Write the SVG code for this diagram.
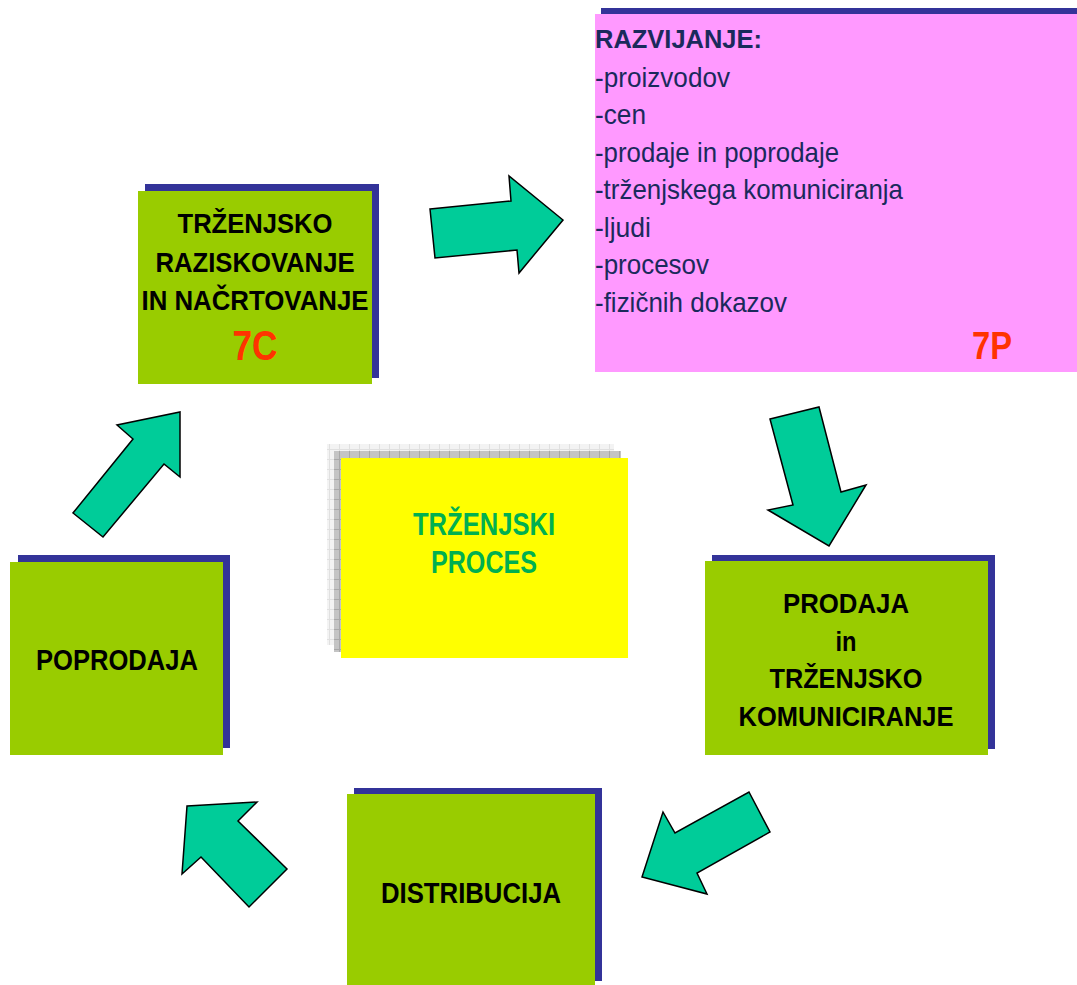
<svg xmlns="http://www.w3.org/2000/svg" width="1077" height="985" viewBox="0 0 1077 985">
<style>
.box{fill:#99CC00}
.sh{fill:#333399}
.bt{font-family:"Liberation Sans",Arial,sans-serif;font-weight:bold;fill:#000;text-anchor:middle}
.arrow{fill:#00CC99;stroke:#000;stroke-width:1.5;stroke-linejoin:miter}
.lst{font-family:"Liberation Sans",Arial,sans-serif;fill:#1a2a5c;font-size:28px}
.red{font-family:"Liberation Sans",Arial,sans-serif;font-weight:bold;fill:#FF3300}
</style>
<defs>
<pattern id="gl" width="10" height="10" patternUnits="userSpaceOnUse">
<rect width="10" height="10" fill="#f3f3f3"/>
<path d="M0 9.5H10M9.5 0V10" stroke="#e0e0e0" stroke-width="1"/>
</pattern>
<pattern id="gd" width="10" height="10" patternUnits="userSpaceOnUse">
<rect width="10" height="10" fill="#c4c4c4"/>
<path d="M0 9.5H10M9.5 0V10" stroke="#a8a8a8" stroke-width="1"/>
</pattern>
</defs>
<rect width="1077" height="985" fill="#fff"/>

<g id="connectors">
<polygon class="arrow" points="430,209 511,201 509,176 563,220 519,273 517,250 435,258"/>
<polygon class="arrow" points="770,419 819,407 841,492 866,485 829,546 768,510 793,505"/>
<polygon class="arrow" points="749,792 770,832 697,873 707,894 642,877 663,812 675,833"/>
<polygon class="arrow" points="187,806 257,802 238,821 287,869 249,907 201,857 182,874"/>
<polygon class="arrow" points="180,412 180,477 164,464 103,537 73,513 133,439 117,425"/>
</g>

<g id="node-raziskovanje">
<rect class="sh" x="145" y="184" width="234" height="194"/>
<rect class="box" x="138" y="191" width="234" height="193"/>
<text class="bt" x="255" y="233" font-size="28" textLength="155" lengthAdjust="spacingAndGlyphs">TRŽENJSKO</text>
<text class="bt" x="255" y="272" font-size="28" textLength="199" lengthAdjust="spacingAndGlyphs">RAZISKOVANJE</text>
<text class="bt" x="255" y="310" font-size="28" textLength="227" lengthAdjust="spacingAndGlyphs">IN NAČRTOVANJE</text>
<text class="red" x="255" y="360" font-size="43" text-anchor="middle" textLength="45" lengthAdjust="spacingAndGlyphs">7C</text>
</g>

<g id="node-razvijanje">
<rect class="sh" x="601" y="8" width="482" height="358"/>
<rect x="595" y="14" width="482" height="358" fill="#FF99FF"/>
<text x="595" y="48" font-family="Liberation Sans,Arial,sans-serif" font-weight="bold" font-size="26" fill="#1a2a5c" textLength="167" lengthAdjust="spacingAndGlyphs">RAZVIJANJE:</text>
<text class="lst" x="595" y="87" textLength="135" lengthAdjust="spacingAndGlyphs">-proizvodov</text>
<text class="lst" x="595" y="124" textLength="51" lengthAdjust="spacingAndGlyphs">-cen</text>
<text class="lst" x="595" y="162" textLength="244" lengthAdjust="spacingAndGlyphs">-prodaje in poprodaje</text>
<text class="lst" x="595" y="199" textLength="308" lengthAdjust="spacingAndGlyphs">-trženjskega komuniciranja</text>
<text class="lst" x="595" y="237" textLength="56" lengthAdjust="spacingAndGlyphs">-ljudi</text>
<text class="lst" x="595" y="274" textLength="114" lengthAdjust="spacingAndGlyphs">-procesov</text>
<text class="lst" x="595" y="312" textLength="192" lengthAdjust="spacingAndGlyphs">-fizičnih dokazov</text>
<text class="red" x="972" y="359" font-size="38" textLength="40" lengthAdjust="spacingAndGlyphs">7P</text>
</g>

<g id="node-proces">
<rect x="327" y="444" width="287" height="201" fill="url(#gl)"/>
<rect x="334" y="451" width="287" height="201" fill="url(#gd)"/>
<rect x="341" y="458" width="287" height="200" fill="#FFFF00"/>
<text x="484" y="535" font-family="Liberation Sans,Arial,sans-serif" font-weight="bold" font-size="31" fill="#00B050" text-anchor="middle" textLength="142" lengthAdjust="spacingAndGlyphs">TRŽENJSKI</text>
<text x="484" y="573" font-family="Liberation Sans,Arial,sans-serif" font-weight="bold" font-size="31" fill="#00B050" text-anchor="middle" textLength="106" lengthAdjust="spacingAndGlyphs">PROCES</text>
</g>

<g id="node-prodaja">
<rect class="sh" x="712" y="555" width="283" height="194"/>
<rect class="box" x="705" y="561" width="283" height="194"/>
<text class="bt" x="846" y="613" font-size="28" textLength="126" lengthAdjust="spacingAndGlyphs">PRODAJA</text>
<text class="bt" x="846" y="651" font-size="28" textLength="21" lengthAdjust="spacingAndGlyphs">in</text>
<text class="bt" x="846" y="688" font-size="28" textLength="153" lengthAdjust="spacingAndGlyphs">TRŽENJSKO</text>
<text class="bt" x="846" y="726" font-size="28" textLength="215" lengthAdjust="spacingAndGlyphs">KOMUNICIRANJE</text>
</g>

<g id="node-distribucija">
<rect class="sh" x="354" y="788" width="248" height="193"/>
<rect class="box" x="347" y="794" width="248" height="191"/>
<text class="bt" x="471" y="903" font-size="29" textLength="180" lengthAdjust="spacingAndGlyphs">DISTRIBUCIJA</text>
</g>

<g id="node-poprodaja">
<rect class="sh" x="18" y="555" width="212" height="193"/>
<rect class="box" x="10" y="562" width="213" height="193"/>
<text class="bt" x="117" y="670" font-size="29" textLength="162" lengthAdjust="spacingAndGlyphs">POPRODAJA</text>
</g>
</svg>
